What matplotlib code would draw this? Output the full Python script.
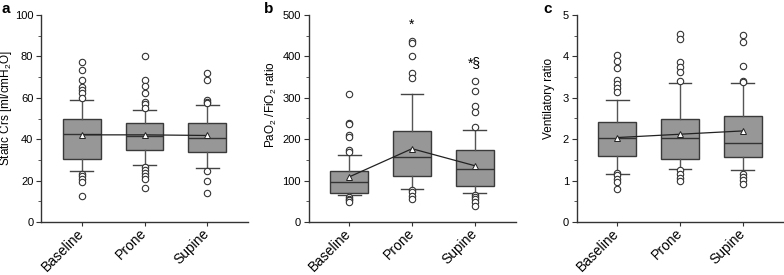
import matplotlib
matplotlib.use("Agg")
import matplotlib.pyplot as plt
from matplotlib.ticker import MultipleLocator

plt.rcParams['font.family'] = ['Liberation Sans', 'DejaVu Sans']
plt.rcParams['mathtext.fontset'] = 'custom'
plt.rcParams['mathtext.rm'] = 'Liberation Sans'
plt.rcParams['mathtext.it'] = 'Liberation Sans:italic'

categories = ["Baseline", "Prone", "Supine"]

# Panel a: Static Crs
a_whislo = [24.8, 27.4, 26.0]
a_q1 = [30.5, 35.0, 34.0]
a_med = [42.7, 41.6, 40.8]
a_q3 = [50.0, 47.7, 47.6]
a_whishi = [58.9, 53.9, 56.5]
a_mean = [42.1, 42.1, 41.8]
a_fliers = [
    [77.4, 73.2, 68.5, 65.0, 63.7, 62.4, 60.0, 23.4, 22.1, 20.8, 19.5, 12.4],
    [80.0, 68.7, 65.5, 62.3, 57.9, 56.8, 55.2, 26.6, 25.3, 23.7, 22.4, 20.8, 16.3],
    [71.9, 68.7, 58.7, 57.9, 57.3, 24.8, 19.8, 13.9],
]

# Panel b: PaO2/FiO2
b_whislo = [64.5, 80.6, 70.0]
b_q1 = [71.0, 110.5, 86.0]
b_med = [97.0, 157.0, 127.0]
b_q3 = [122.0, 220.0, 173.0]
b_whishi = [162.0, 309.0, 222.6]
b_mean = [109.0, 177.0, 136.0]
b_fliers = [
    [310, 240, 237, 211, 206, 174, 169, 60.5, 56, 52, 48],
    [437, 433, 400, 359, 347, 76.6, 72.6, 63, 56.5],
    [340, 316, 281, 265, 230, 66, 60.5, 55, 48, 38],
]
b_marks = ["", "*", "*§"]
b_mark_y = [0, 477, 385]

# Panel c: Ventilatory ratio
c_whislo = [1.17, 1.27, 1.26]
c_q1 = [1.59, 1.53, 1.57]
c_med = [2.02, 2.02, 1.91]
c_q3 = [2.42, 2.48, 2.57]
c_whishi = [2.94, 3.35, 3.36]
c_mean = [2.04, 2.12, 2.20]
c_fliers = [
    [4.03, 3.90, 3.71, 3.43, 3.33, 3.23, 3.14, 1.19, 1.13, 1.05, 0.97, 0.79],
    [4.54, 4.41, 3.87, 3.75, 3.63, 3.41, 1.25, 1.15, 1.07, 0.99],
    [4.52, 4.34, 3.77, 3.41, 3.38, 1.17, 1.09, 1.01, 0.91],
]

fig = plt.figure(figsize=(7.84, 2.75), dpi=100)
W, H = 784.0, 275.0
bottom = (H - 222) / H
height = 207 / H
width = 207 / W
lefts = [41, 308.5, 576.5]
letter_x = [1, 264, 543]
label_xy = [(14.5, 108), (279, 104.5), (555, 98.5)]

panels = [
    ("a", "Static Crs [ml/cmH$_2$O]", (a_whislo, a_q1, a_med, a_q3, a_whishi, a_mean, a_fliers), 100, 20, 10),
    ("b", "PaO$_2$ /FiO$_2$ ratio", (b_whislo, b_q1, b_med, b_q3, b_whishi, b_mean, b_fliers), 500, 100, 50),
    ("c", "Ventilatory ratio", (c_whislo, c_q1, c_med, c_q3, c_whishi, c_mean, c_fliers), 5, 1, 0.5),
]

edge = "#3a3a3a"
positions = [1, 2, 3]
for k, ((letter, ylabel, data, ymax, major, minor), left) in enumerate(zip(panels, lefts)):
    ax = fig.add_axes([left / W, bottom, width, height])
    wl, q1, med, q3, wh, mean, fl = data
    stats = []
    for i in range(3):
        stats.append(dict(whislo=wl[i], q1=q1[i], med=med[i], q3=q3[i],
                          whishi=wh[i], mean=mean[i], fliers=fl[i], label=categories[i]))
    ax.bxp(stats, positions=positions, widths=0.6, patch_artist=True,
           showmeans=False, showfliers=True,
           boxprops=dict(facecolor="#979797", edgecolor=edge, linewidth=1.0),
           medianprops=dict(color="#333333", linewidth=1.0),
           whiskerprops=dict(color="#555555", linewidth=1.0),
           capprops=dict(color="#444444", linewidth=1.0),
           capwidths=0.36,
           flierprops=dict(marker="o", markerfacecolor="white", markeredgecolor="#333333",
                           markersize=4.6, markeredgewidth=0.8))
    ax.plot(positions, mean, "-", color="#222222", linewidth=0.9, marker="^",
            markerfacecolor="white", markeredgecolor="#222222", markersize=5,
            markeredgewidth=0.7, zorder=5)
    ax.set_xlim(0.35, 3.65)
    ax.set_ylim(0, ymax)
    ax.yaxis.set_major_locator(MultipleLocator(major))
    ax.yaxis.set_minor_locator(MultipleLocator(minor))
    for s in ["top", "right"]:
        ax.spines[s].set_visible(False)
    for s in ["left", "bottom"]:
        ax.spines[s].set_color("#333333")
        ax.spines[s].set_linewidth(1.0)
    ax.tick_params(axis="y", which="major", length=3.5, width=0.8, colors="#333333",
                   labelsize=8, labelcolor="black", pad=2)
    ax.tick_params(axis="y", which="minor", length=2.5, width=0.7, colors="#555555")
    ax.tick_params(axis="x", length=3, width=0.8, colors="#333333", labelcolor="black")
    ax.set_xticks(positions)
    ax.set_xticklabels(categories, rotation=45, ha="right", va="center",
                       rotation_mode="anchor", fontsize=10)
    ax.set_ylabel(ylabel, fontsize=8.5)
    lx, ly = label_xy[k]
    ax.yaxis.set_label_coords((lx - left) / 207, (222 - ly) / 207)
    fig.text(letter_x[k] / W, 1 - 9 / H, letter,
             fontsize=11, fontweight="bold", va="center", ha="left")
    if letter == "b":
        for i in range(3):
            if b_marks[i]:
                ax.text(positions[i], b_mark_y[i], b_marks[i], ha="center", va="center",
                        fontsize=10)

fig.savefig("out.png", dpi=100)
